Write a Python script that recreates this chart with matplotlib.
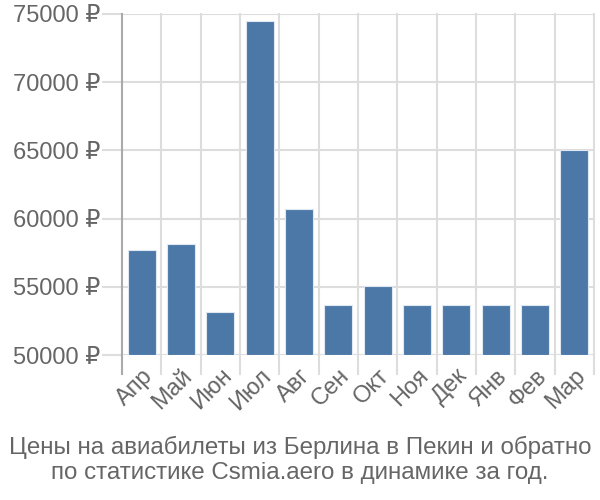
import matplotlib
matplotlib.use("Agg")
import matplotlib.pyplot as plt

months = ["Апр", "Май", "Июн", "Июл", "Авг", "Сен", "Окт", "Ноя", "Дек", "Янв", "Фев", "Мар"]
prices = [57720, 58140, 53130, 74510, 60680, 53690, 55060, 53690, 53690, 53690, 53690, 65030]
yticks = [50000, 55000, 60000, 65000, 70000, 75000]
title = "Цены на авиабилеты из Берлина в Пекин и обратно\nпо статистике Csmia.aero в динамике за год."

plt.rcParams['font.family'] = ['Liberation Sans', 'DejaVu Sans']

fig = plt.figure(figsize=(6, 5), dpi=100)
ax = fig.add_axes([122/600, 1 - 355/500, (594-122)/600, (355-14)/500])

x = list(range(len(months)))
ax.bar(x, [p - 50000 for p in prices], bottom=50000, width=0.72, color="#4c78a8",
       edgecolor="#dfe7f0", linewidth=0.8, zorder=3)

ax.set_xlim(-0.5, len(months) - 0.5)
ax.set_ylim(50000, 75000)
ax.set_yticks(yticks)
ax.set_yticklabels([f"{v} ₽" for v in yticks], fontsize=17, color="#666666")
ax.set_xticks(x)
ax.set_xticklabels(months, rotation=45, ha="right", rotation_mode="anchor",
                   fontsize=17, color="#666666")
ax.tick_params(axis="x", length=0, pad=7)
ax.tick_params(axis="y", length=14.4, color="#dddddd", width=1.5, pad=1.5)

# grid
for v in yticks:
    ax.axhline(v, color="#dddddd", linewidth=1.5, zorder=1)
for b in [i + 0.5 for i in x]:
    ax.plot([b, b], [0, 1], transform=ax.get_xaxis_transform(), color="#dddddd",
            linewidth=1.5, zorder=1, clip_on=False)
    ax.plot([b, b], [-0.055, 0], transform=ax.get_xaxis_transform(), color="#dddddd",
            linewidth=1.5, zorder=1, clip_on=False)
ax.plot([-0.5, -0.5], [-0.055, 1], transform=ax.get_xaxis_transform(), color="#aaaaaa",
        linewidth=1.5, zorder=4, clip_on=False)

for s in ax.spines.values():
    s.set_visible(False)

fig.text(0.5, 1 - 460/500, title, ha="center", va="center", fontsize=17.4,
         color="#666666", linespacing=1.2)

fig.savefig("out.png", dpi=100)
